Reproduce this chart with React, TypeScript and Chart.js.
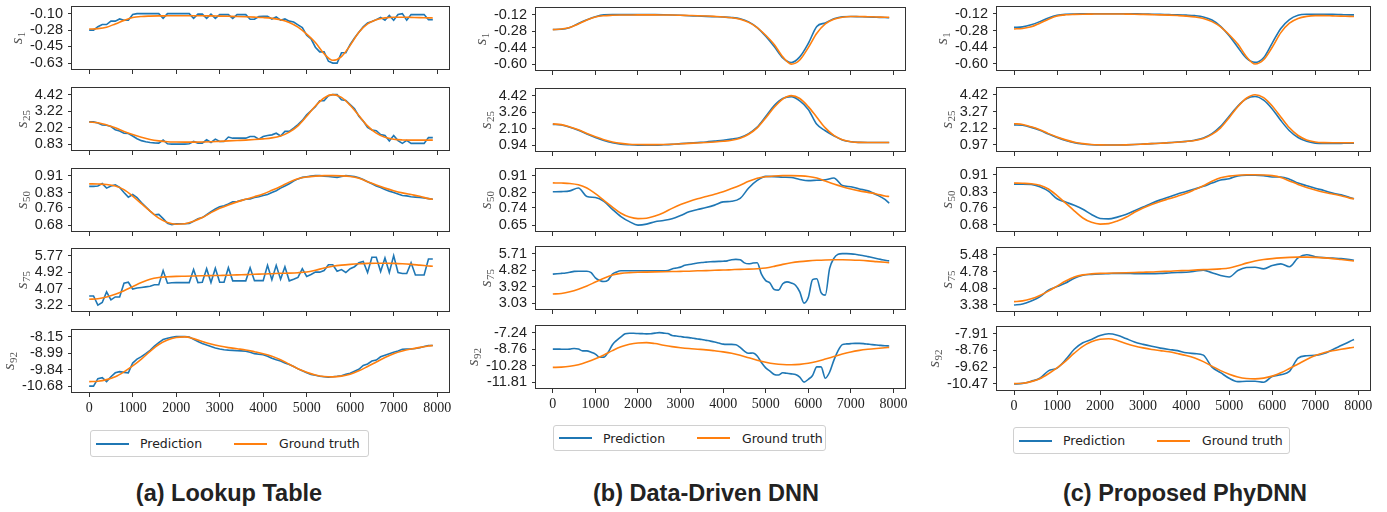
import React, { useEffect, useRef } from "react";
import { Chart, registerables } from "chart.js";
Chart.register(...registerables);

// ---------------- data ----------------
const X_FINE = [0,100,200,300,400,500,600,700,800,900,1000,1100,1200,1300,1400,1500,1600,1700,1800,1900,2000,2100,2200,2300,2400,2500,2600,2700,2800,2900,3000,3100,3200,3300,3400,3500,3600,3700,3800,3900,4000,4100,4200,4300,4400,4500,4600,4700,4800,4900,5000,5100,5200,5300,5400,5500,5600,5700,5800,5900,6000,6100,6200,6300,6400,6500,6600,6700,6800,6900,7000,7100,7200,7300,7400,7500,7600,7700,7800,7900];
const X_COARSE = [0,200,400,600,800,1000,1200,1400,1600,1800,2000,2200,2400,2600,2800,3000,3200,3400,3600,3800,4000,4200,4400,4600,4800,5000,5200,5400,5600,5800,6000,6200,6400,6600,6800,7000,7200,7400,7600,7800,7900];
const X_TICKS = [0,1000,2000,3000,4000,5000,6000,7000,8000];

// ground truth (shared by the three methods)
const GT_S1 = [-0.265,-0.26,-0.245,-0.21,-0.172,-0.142,-0.13,-0.126,-0.124,-0.123,-0.122,-0.122,-0.122,-0.123,-0.124,-0.126,-0.128,-0.130,-0.133,-0.137,-0.142,-0.150,-0.165,-0.195,-0.245,-0.32,-0.41,-0.53,-0.60,-0.56,-0.44,-0.30,-0.21,-0.165,-0.145,-0.138,-0.138,-0.140,-0.142,-0.145,-0.146];
const GT_S25 = [2.43,2.38,2.22,2.02,1.75,1.52,1.32,1.16,1.06,1.00,0.98,0.97,0.97,0.98,1.00,1.03,1.06,1.09,1.12,1.16,1.21,1.28,1.42,1.70,2.15,2.85,3.60,4.18,4.42,4.22,3.65,2.90,2.15,1.62,1.32,1.18,1.13,1.12,1.12,1.12,1.12];
const GT_S50 = [0.872,0.871,0.869,0.862,0.845,0.815,0.78,0.745,0.712,0.692,0.684,0.686,0.698,0.715,0.738,0.758,0.774,0.788,0.800,0.812,0.825,0.842,0.860,0.880,0.896,0.904,0.908,0.91,0.91,0.909,0.906,0.898,0.882,0.866,0.852,0.840,0.830,0.822,0.814,0.803,0.80];
const GT_S75 = [3.52,3.55,3.64,3.78,3.96,4.17,4.38,4.55,4.64,4.68,4.70,4.71,4.72,4.73,4.74,4.75,4.76,4.78,4.79,4.81,4.82,4.84,4.86,4.87,4.89,4.93,5.02,5.13,5.22,5.28,5.32,5.35,5.37,5.38,5.38,5.37,5.35,5.32,5.28,5.24,5.22];
const GT_S92 = [-10.45,-10.43,-10.35,-10.20,-9.95,-9.65,-9.30,-8.90,-8.55,-8.32,-8.19,-8.16,-8.25,-8.40,-8.53,-8.63,-8.71,-8.77,-8.83,-8.92,-9.02,-9.15,-9.33,-9.56,-9.79,-9.97,-10.11,-10.19,-10.21,-10.17,-10.07,-9.90,-9.68,-9.45,-9.22,-9.02,-8.88,-8.78,-8.70,-8.63,-8.60];

// (a) Lookup table predictions (X_FINE)
const LUT_S1 = [
  -0.277,-0.277,-0.24,-0.217,-0.217,-0.18,-0.18,-0.157,-0.17,-0.17,
  -0.11,-0.10,-0.10,-0.10,-0.10,-0.10,-0.10,-0.15,-0.10,-0.10,
  -0.10,-0.10,-0.10,-0.10,-0.15,-0.105,-0.105,-0.15,-0.105,-0.15,
  -0.11,-0.11,-0.11,-0.15,-0.11,-0.11,-0.11,-0.16,-0.16,-0.13,
  -0.128,-0.128,-0.157,-0.135,-0.17,-0.157,-0.18,-0.19,-0.22,-0.25,
  -0.33,-0.37,-0.46,-0.51,-0.51,-0.61,-0.63,-0.63,-0.52,-0.52,
  -0.43,-0.36,-0.30,-0.24,-0.20,-0.185,-0.164,-0.14,-0.17,-0.12,
  -0.17,-0.11,-0.10,-0.17,-0.11,-0.11,-0.11,-0.11,-0.165,-0.165];
const LUT_S25 = [
  2.44,2.44,2.36,2.22,2.20,2.10,1.87,1.78,1.62,1.60,
  1.42,1.22,1.08,1.00,0.95,0.92,0.90,1.12,0.85,0.83,
  0.83,0.83,0.83,0.85,1.02,0.90,0.90,1.14,0.95,1.19,
  1.02,1.02,1.34,1.26,1.26,1.26,1.26,1.38,1.38,1.19,
  1.38,1.45,1.50,1.62,1.42,1.75,1.75,1.99,2.25,2.55,
  2.95,3.25,3.55,3.98,3.98,4.35,4.42,4.42,4.05,4.00,
  3.70,3.40,2.85,2.50,2.05,1.85,1.80,1.52,1.45,1.05,
  1.45,1.08,0.88,1.10,0.88,0.88,0.88,0.88,1.30,1.30];
const LUT_S50 = [
  0.860,0.860,0.862,0.873,0.852,0.862,0.867,0.855,0.832,0.810,
  0.822,0.808,0.785,0.765,0.745,0.728,0.730,0.71,0.688,0.682,
  0.686,0.686,0.686,0.688,0.698,0.71,0.715,0.728,0.742,0.755,
  0.765,0.77,0.778,0.788,0.79,0.795,0.80,0.802,0.808,0.812,
  0.818,0.822,0.832,0.84,0.852,0.862,0.872,0.885,0.895,0.902,
  0.905,0.908,0.91,0.91,0.908,0.906,0.904,0.902,0.906,0.91,
  0.908,0.906,0.90,0.892,0.882,0.872,0.862,0.855,0.845,0.838,
  0.832,0.825,0.818,0.816,0.812,0.81,0.808,0.806,0.803,0.80];
const LUT_S75 = [
  3.69,3.69,3.22,3.35,3.90,3.49,3.64,3.64,4.35,4.40,
  4.05,4.10,4.13,4.16,4.19,4.27,4.27,5.00,4.35,4.37,
  4.38,4.38,4.38,4.38,5.05,4.38,4.40,5.10,4.38,5.12,
  4.40,4.40,5.15,4.47,4.47,4.47,4.47,5.15,4.48,4.48,
  4.48,5.27,4.53,5.27,4.55,5.20,4.47,4.55,4.65,5.10,
  4.70,4.80,4.92,4.92,5.00,5.30,5.30,4.97,5.05,4.90,
  5.10,5.20,5.40,5.47,4.90,5.69,5.69,4.95,5.65,4.90,
  5.77,4.90,4.85,4.85,5.40,4.77,4.77,4.77,5.60,5.60];
const LUT_S92 = [
  -10.68,-10.68,-10.30,-10.25,-10.45,-10.20,-10.00,-9.94,-9.98,-10.00,
  -9.50,-9.30,-9.17,-9.02,-8.85,-8.63,-8.45,-8.30,-8.23,-8.18,
  -8.15,-8.15,-8.15,-8.17,-8.28,-8.40,-8.50,-8.58,-8.65,-8.73,
  -8.78,-8.82,-8.84,-8.85,-8.87,-8.88,-8.90,-8.95,-9.02,-9.05,
  -9.08,-9.15,-9.25,-9.33,-9.40,-9.50,-9.58,-9.68,-9.80,-9.90,
  -10.00,-10.08,-10.13,-10.18,-10.20,-10.22,-10.20,-10.18,-10.15,-10.08,
  -10.02,-9.92,-9.82,-9.62,-9.55,-9.40,-9.35,-9.18,-9.10,-9.02,
  -8.95,-8.88,-8.80,-8.78,-8.78,-8.76,-8.72,-8.65,-8.60,-8.60];

// (b) Data-driven DNN predictions
const DNN_S1 = [-0.264,-0.262,-0.245,-0.205,-0.17,-0.14,-0.122,-0.12,-0.12,-0.12,-0.12,-0.12,-0.12,-0.121,-0.123,-0.126,-0.13,-0.133,-0.137,-0.14,-0.143,-0.148,-0.16,-0.19,-0.245,-0.33,-0.43,-0.54,-0.585,-0.53,-0.40,-0.235,-0.20,-0.16,-0.14,-0.138,-0.14,-0.142,-0.145,-0.148,-0.15];
const DNN_S25 = [2.40,2.36,2.20,1.98,1.72,1.48,1.26,1.10,1.00,0.96,0.94,0.94,0.94,0.96,0.99,1.04,1.08,1.12,1.16,1.22,1.28,1.36,1.48,1.75,2.20,2.95,3.72,4.22,4.35,4.05,3.45,2.40,1.95,1.60,1.30,1.17,1.13,1.12,1.12,1.12,1.12];
const DNN_S50 = [0.825,0.826,0.830,0.845,0.80,0.795,0.775,0.733,0.695,0.668,0.65,0.655,0.668,0.674,0.683,0.70,0.72,0.732,0.742,0.755,0.772,0.775,0.79,0.845,0.885,0.906,0.905,0.902,0.900,0.89,0.884,0.886,0.888,0.898,0.858,0.852,0.84,0.83,0.81,0.785,0.765];
const DNN_S75 = [
  4.60,4.62,4.64,4.66,4.70,4.75,4.76,4.76,4.76,4.68,
  4.40,4.26,4.20,4.28,4.60,4.72,4.78,4.78,4.78,4.78,
  4.78,4.78,4.78,4.78,4.78,4.78,4.78,4.80,4.88,4.93,
  4.98,5.08,5.12,5.16,5.20,5.23,5.25,5.27,5.28,5.29,
  5.30,5.32,5.38,5.40,5.38,5.21,5.16,5.20,5.22,4.60,
  4.25,4.12,3.76,3.73,4.08,4.18,4.12,4.00,3.64,3.03,
  3.33,4.30,4.35,3.60,3.46,4.90,5.45,5.68,5.71,5.71,
  5.70,5.68,5.64,5.60,5.55,5.50,5.45,5.40,5.35,5.32];
const DNN_S92 = [
  -8.76,-8.76,-8.77,-8.78,-8.76,-8.70,-8.75,-8.92,-8.92,-9.05,
  -9.22,-9.52,-9.50,-9.05,-8.35,-7.95,-7.62,-7.35,-7.30,-7.30,
  -7.32,-7.33,-7.35,-7.34,-7.28,-7.24,-7.28,-7.32,-7.50,-7.55,
  -7.60,-7.66,-7.70,-7.76,-7.82,-7.88,-7.95,-8.02,-8.10,-8.20,
  -8.30,-8.32,-8.32,-8.35,-8.60,-8.95,-9.15,-9.12,-9.40,-10.00,
  -10.50,-10.80,-11.10,-11.16,-10.95,-11.00,-11.05,-11.10,-11.35,-11.81,
  -11.55,-11.20,-10.40,-10.40,-11.45,-10.90,-9.80,-8.90,-8.35,-8.28,
  -8.25,-8.23,-8.23,-8.25,-8.30,-8.35,-8.38,-8.42,-8.45,-8.47];

// (c) Proposed PhyDNN predictions (X_COARSE)
const PHY_S1 = [-0.25,-0.245,-0.225,-0.195,-0.16,-0.135,-0.125,-0.122,-0.121,-0.12,-0.12,-0.12,-0.12,-0.12,-0.121,-0.122,-0.124,-0.126,-0.128,-0.130,-0.133,-0.138,-0.15,-0.18,-0.24,-0.33,-0.44,-0.545,-0.585,-0.54,-0.40,-0.26,-0.175,-0.135,-0.125,-0.124,-0.125,-0.126,-0.128,-0.13,-0.13];
const PHY_S25 = [2.35,2.32,2.18,1.98,1.72,1.48,1.28,1.13,1.04,0.99,0.97,0.97,0.97,0.98,1.00,1.03,1.06,1.09,1.13,1.17,1.22,1.30,1.45,1.75,2.25,2.95,3.65,4.15,4.30,4.05,3.45,2.65,1.95,1.48,1.22,1.10,1.07,1.07,1.08,1.09,1.09];
const PHY_S50 = [0.867,0.867,0.866,0.855,0.835,0.80,0.785,0.77,0.752,0.728,0.71,0.708,0.716,0.728,0.745,0.762,0.78,0.795,0.808,0.822,0.833,0.845,0.857,0.872,0.886,0.892,0.905,0.908,0.908,0.906,0.900,0.900,0.89,0.872,0.86,0.848,0.838,0.826,0.818,0.806,0.80];
const PHY_S75 = [3.38,3.42,3.55,3.72,4.00,4.15,4.30,4.50,4.62,4.66,4.68,4.69,4.70,4.70,4.69,4.69,4.69,4.70,4.72,4.74,4.75,4.79,4.84,4.73,4.61,4.55,4.82,4.95,4.96,4.89,5.03,5.10,4.98,5.35,5.48,5.40,5.36,5.34,5.32,5.28,5.25];
const PHY_S92 = [-10.47,-10.44,-10.33,-10.18,-9.80,-9.66,-9.23,-8.70,-8.37,-8.20,-8.00,-7.91,-7.98,-8.15,-8.33,-8.45,-8.55,-8.64,-8.71,-8.77,-8.88,-8.92,-9.00,-9.61,-9.89,-10.18,-10.35,-10.33,-10.33,-10.38,-10.09,-10.00,-9.83,-9.15,-9.03,-9.01,-8.92,-8.72,-8.51,-8.30,-8.20];

// y tick labels
const LUT_TICKS = [
  ["-0.10","-0.28","-0.45","-0.63"],
  ["4.42","3.22","2.02","0.83"],
  ["0.91","0.83","0.76","0.68"],
  ["5.77","4.92","4.07","3.22"],
  ["-8.15","-8.99","-9.84","-10.68"],
];
const DNN_TICKS = [
  ["-0.12","-0.28","-0.44","-0.60"],
  ["4.42","3.26","2.10","0.94"],
  ["0.91","0.82","0.74","0.65"],
  ["5.71","4.82","3.92","3.03"],
  ["-7.24","-8.76","-10.28","-11.81"],
];
const PHY_TICKS = [
  ["-0.12","-0.28","-0.44","-0.60"],
  ["4.42","3.27","2.12","0.97"],
  ["0.91","0.83","0.76","0.68"],
  ["5.48","4.78","4.08","3.38"],
  ["-7.91","-8.76","-9.62","-10.47"],
];
const SUBSCRIPTS = ["1","25","50","75","92"];
const GROUND_TRUTH = [GT_S1, GT_S25, GT_S50, GT_S75, GT_S92];
const LEGEND_LABELS = ["Prediction", "Ground truth"];

const BLUE = "#1f77b4";
const ORANGE = "#ff7f0e";

// ---------------- layout ----------------
const COLUMNS = [
  { title: "(a) Lookup Table", left: 72, right: 450, tops: [6, 87, 168, 248, 329], h: 64,
    preds: [LUT_S1, LUT_S25, LUT_S50, LUT_S75, LUT_S92], predX: [X_FINE, X_FINE, X_FINE, X_FINE, X_FINE],
    smooth: false, ticks: LUT_TICKS, legend: { left: 90, top: 430, width: 279, height: 27 }, cx: 229 },
  { title: "(b) Data-Driven DNN", left: 536, right: 906, tops: [7, 88, 168, 246, 325], h: 64,
    preds: [DNN_S1, DNN_S25, DNN_S50, DNN_S75, DNN_S92], predX: [X_COARSE, X_COARSE, X_COARSE, X_FINE, X_FINE],
    smooth: true, ticks: DNN_TICKS, legend: { left: 553, top: 425, width: 273, height: 26 }, cx: 706 },
  { title: "(c) Proposed PhyDNN", left: 997, right: 1371, tops: [6, 87, 167, 247, 326], h: 65,
    preds: [PHY_S1, PHY_S25, PHY_S50, PHY_S75, PHY_S92], predX: [X_COARSE, X_COARSE, X_COARSE, X_COARSE, X_COARSE],
    smooth: true, ticks: PHY_TICKS, legend: { left: 1013, top: 427, width: 277, height: 27 }, cx: 1185 },
];

const LEFT_SPACE = 72;
const PAD_TOP = 4;
const PAD_RIGHT = 5;
const TICK_FONT = '"Liberation Sans", Arial, sans-serif';
const TICK_SIZE = 14.5;

type PanelProps = {
  left: number; top: number; w: number; h: number; bottom: boolean;
  predX: number[]; pred: number[]; gt: number[]; ticks: string[]; sub: string; smooth: boolean;
};

function makeFramePlugin(sub: string, labels: string[]) {
  return {
    id: "frameAndTitle",
    afterDraw(chart: any) {
      const { ctx, chartArea: a } = chart;
      ctx.save();
      ctx.strokeStyle = "#333";
      ctx.lineWidth = 1;
      ctx.strokeRect(Math.round(a.left) - 0.5, Math.round(a.top) + 0.5,
        Math.round(a.right - a.left) + 0, Math.round(a.bottom - a.top) - 1);
      ctx.font = `${TICK_SIZE}px ${TICK_FONT}`;
      let maxW = 0;
      labels.forEach((l) => { maxW = Math.max(maxW, ctx.measureText(l).width); });
      const cx = a.left - 4 - 5 - maxW - 12;
      const cy = (a.top + a.bottom) / 2;
      ctx.translate(cx, cy);
      ctx.rotate(-Math.PI / 2);
      ctx.fillStyle = "#555";
      ctx.textBaseline = "alphabetic";
      ctx.textAlign = "left";
      ctx.font = 'italic 17px "Liberation Serif", serif';
      const wS = ctx.measureText("s").width;
      ctx.font = '11px "Liberation Serif", serif';
      const wSub = ctx.measureText(sub).width;
      const total = wS + wSub + 0.5;
      ctx.font = 'italic 17px "Liberation Serif", serif';
      ctx.fillText("s", -total / 2, 3.8);
      ctx.font = '11px "Liberation Serif", serif';
      ctx.fillText(sub, -total / 2 + wS + 0.5, 7.2);
      ctx.restore();
    },
  };
}

function Panel(p: PanelProps) {
  const ref = useRef<HTMLCanvasElement | null>(null);
  const padBottom = p.bottom ? 26 : 7;
  const cw = p.w + LEFT_SPACE + PAD_RIGHT;
  const ch = p.h + PAD_TOP + padBottom;
  useEffect(() => {
    const vals = p.ticks.map(Number);
    const tmin = Math.min(...vals);
    const tmax = Math.max(...vals);
    const span = tmax - tmin;
    const gridOpts = { display: true, drawOnChartArea: false, drawTicks: true, tickLength: 4, color: "#333", lineWidth: 1 };
    const chart = new Chart(ref.current as HTMLCanvasElement, {
      type: "line",
      data: {
        datasets: [
          {
            label: LEGEND_LABELS[0],
            data: p.predX.map((x, i) => ({ x, y: p.pred[i] })),
            borderColor: BLUE, backgroundColor: BLUE, borderWidth: 1.6, pointRadius: 0, fill: false,
            tension: 0, cubicInterpolationMode: p.smooth ? "monotone" : "default", order: 1,
          },
          {
            label: LEGEND_LABELS[1],
            data: X_COARSE.map((x, i) => ({ x, y: p.gt[i] })),
            borderColor: ORANGE, backgroundColor: ORANGE, borderWidth: 1.6, pointRadius: 0, fill: false,
            cubicInterpolationMode: "monotone", order: 0,
          },
        ],
      } as any,
      options: {
        responsive: false,
        animation: false,
        devicePixelRatio: 1,
        events: [],
        layout: { padding: { left: 0, top: PAD_TOP, right: PAD_RIGHT, bottom: 0 } },
        plugins: { legend: { display: false }, tooltip: { enabled: false } },
        scales: {
          x: {
            type: "linear", min: -395, max: 8295,
            afterBuildTicks: (s: any) => { s.ticks = X_TICKS.map((v) => ({ value: v })); },
            afterFit: (s: any) => { s.height = padBottom; s.paddingLeft = 0; s.paddingRight = 0; },
            grid: gridOpts, border: { display: false },
            ticks: {
              display: p.bottom, autoSkip: false, maxRotation: 0, padding: 3,
              font: { family: '"Liberation Serif", serif', size: 14 }, color: "#222",
              callback: (v: any) => String(v),
            },
          },
          y: {
            type: "linear", min: tmin - 0.14 * span, max: tmax + 0.155 * span,
            afterBuildTicks: (s: any) => { s.ticks = vals.map((v) => ({ value: v })); },
            afterFit: (s: any) => { s.width = LEFT_SPACE; s.paddingTop = 0; s.paddingBottom = 0; },
            grid: gridOpts, border: { display: false },
            ticks: {
              autoSkip: false, padding: 5,
              font: { family: TICK_FONT, size: TICK_SIZE }, color: "#222",
              callback: (v: any) => {
                const i = vals.findIndex((t) => Math.abs(t - Number(v)) < 1e-9);
                return i >= 0 ? p.ticks[i] : "";
              },
            },
          },
        },
      } as any,
      plugins: [makeFramePlugin(p.sub, p.ticks)],
    });
    return () => chart.destroy();
  }, []);
  return (
    <canvas
      ref={ref}
      width={cw}
      height={ch}
      style={{ position: "absolute", left: p.left - LEFT_SPACE, top: p.top - PAD_TOP, width: cw, height: ch }}
    />
  );
}

function Legend({ box }: { box: { left: number; top: number; width: number; height: number } }) {
  const line = (color: string, left: number) => (
    <div style={{ position: "absolute", left, top: "50%", width: 33, height: 2, marginTop: -1, background: color }} />
  );
  const text = (t: string, left: number) => (
    <div style={{ position: "absolute", left, top: 0, height: "100%", display: "flex", alignItems: "center",
      font: '12.5px "DejaVu Sans", sans-serif', color: "#222", whiteSpace: "nowrap" }}>{t}</div>
  );
  return (
    <div style={{ position: "absolute", left: box.left, top: box.top, width: box.width, height: box.height,
      border: "1px solid #d0d0d0", borderRadius: 3, boxSizing: "border-box", background: "#fff" }}>
      {line(BLUE, 5)}
      {text(LEGEND_LABELS[0], 49)}
      {line(ORANGE, 143)}
      {text(LEGEND_LABELS[1], 188)}
    </div>
  );
}

export default function App() {
  return (
    <div style={{ position: "absolute", left: 0, top: 0, width: 1387, height: 512, background: "#fff", overflow: "hidden" }}>
      {COLUMNS.map((col, ci) =>
        col.tops.map((top, ri) => (
          <Panel
            key={`${ci}-${ri}`}
            left={col.left}
            top={top}
            w={col.right - col.left}
            h={col.h}
            bottom={ri === 4}
            predX={col.predX[ri]}
            pred={col.preds[ri]}
            gt={GROUND_TRUTH[ri]}
            ticks={col.ticks[ri]}
            sub={SUBSCRIPTS[ri]}
            smooth={col.smooth}
          />
        ))
      )}
      {COLUMNS.map((col, ci) => <Legend key={`lg${ci}`} box={col.legend} />)}
      {COLUMNS.map((col, ci) => (
        <div key={`t${ci}`} style={{ position: "absolute", left: col.cx - 200, width: 400, top: 480, height: 26,
          lineHeight: "26px", textAlign: "center", font: 'bold 23.5px "Liberation Sans", Arial, sans-serif', color: "#222" }}>
          {col.title}
        </div>
      ))}
    </div>
  );
}
